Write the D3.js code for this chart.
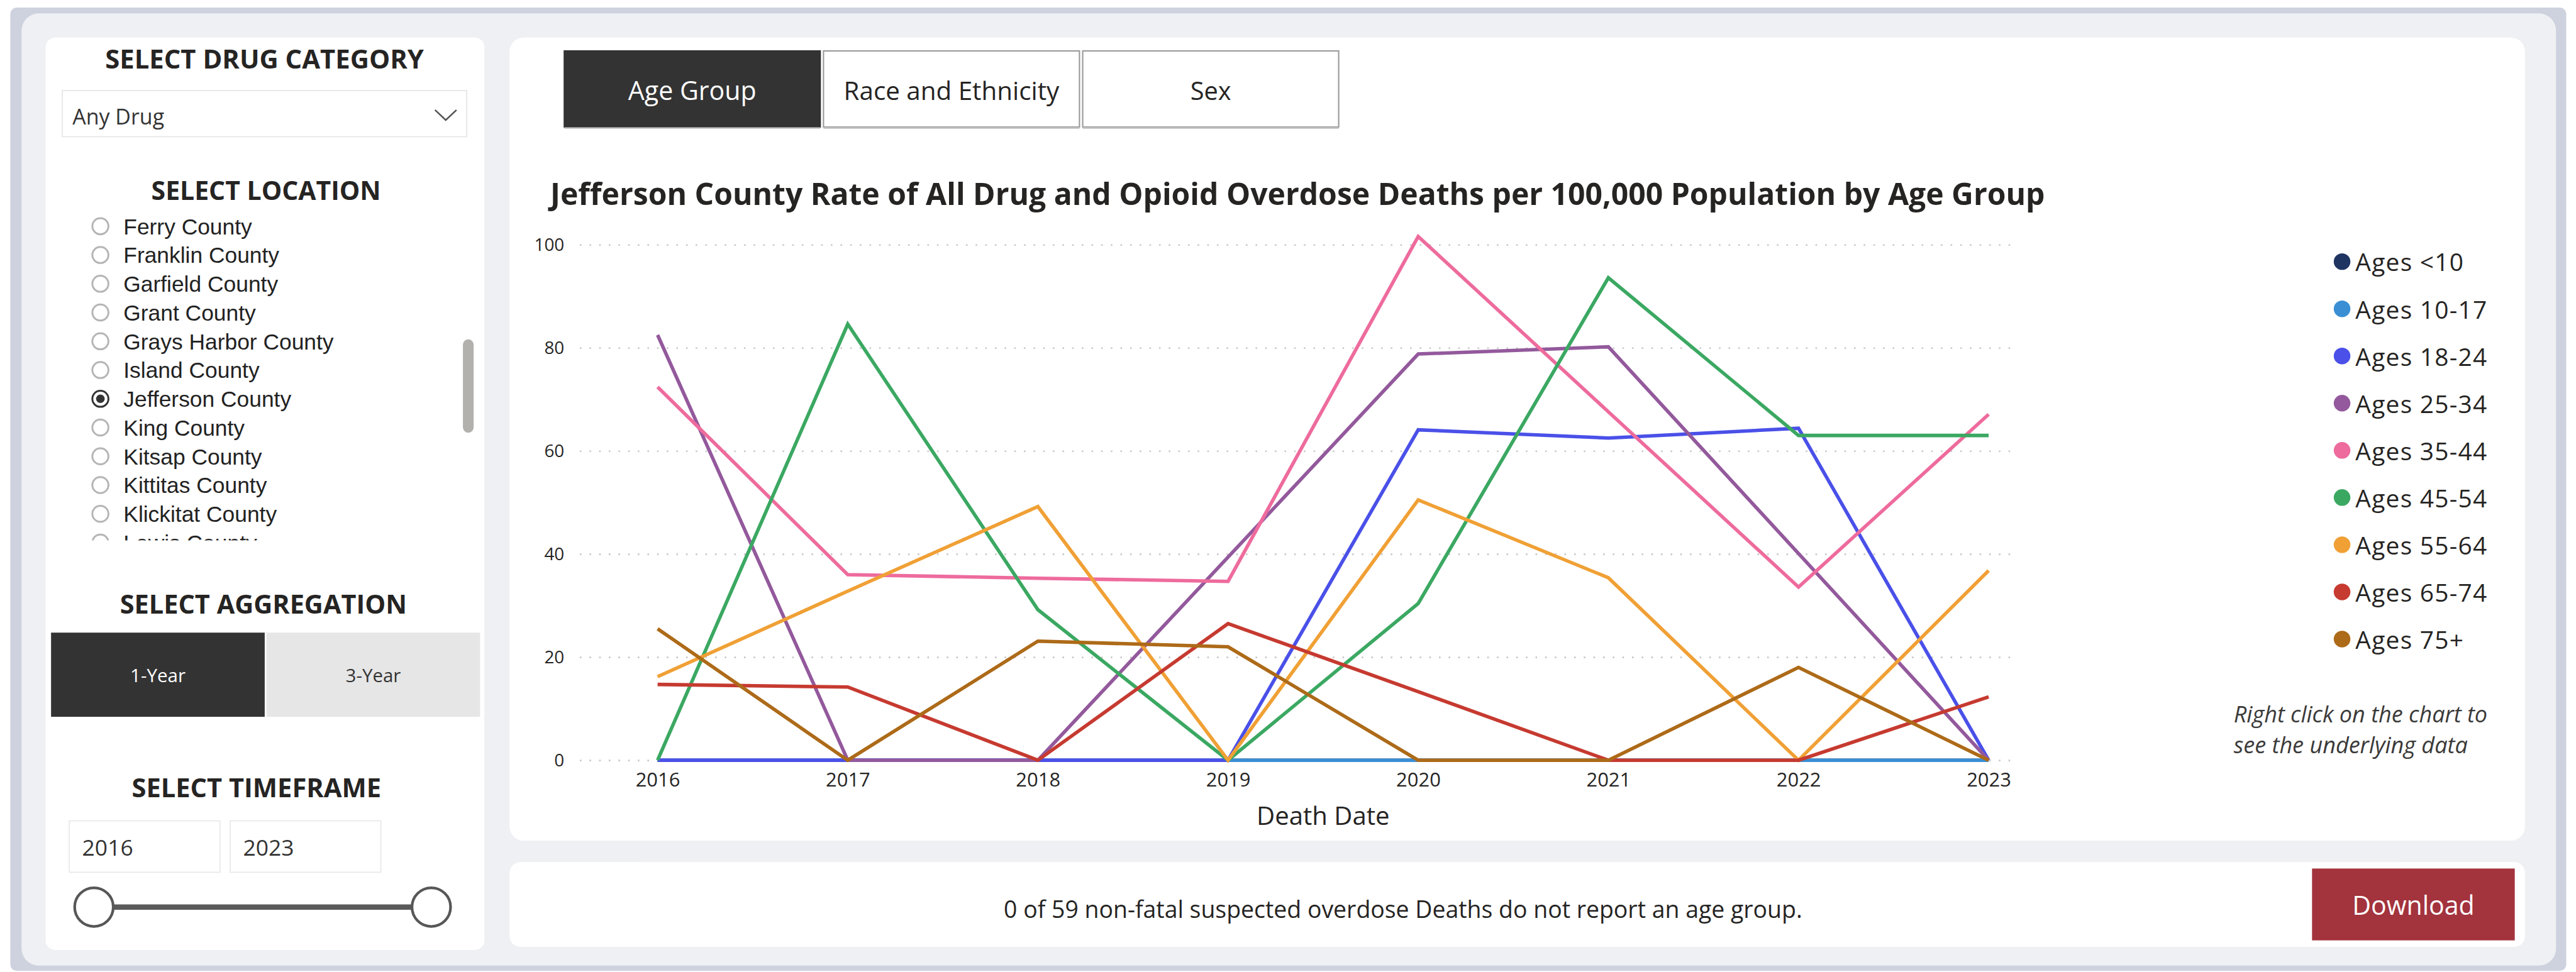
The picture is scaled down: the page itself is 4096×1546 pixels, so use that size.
<!DOCTYPE html>
<html>
<head>
<meta charset="utf-8">
<script src="https://cdn.jsdelivr.net/npm/d3@7"></script>
<style>
  html, body { margin: 0; padding: 0; background: #ffffff; overflow: hidden; }
  svg { display: block; }
</style>
</head>
<body>
<svg id="dash" width="4096" height="1546" viewBox="0 0 4803 1813"></svg>
<script>
// ---- data ----
const years = [2016, 2017, 2018, 2019, 2020, 2021, 2022, 2023];
const yTicks = [0, 20, 40, 60, 80, 100];

const agesUnder10 = [0, 0, 0, 0, 0, 0, 0, 0];
const ages10to17  = [0, 0, 0, 0, 0, 0, 0, 0];
const ages18to24  = [0, 0, 0, 0, 64.1, 62.5, 64.4, 0];
const ages25to34  = [82.5, 0, 0, 39.4, 78.8, 80.2, 40.1, 0];
const ages35to44  = [72.4, 36.0, 35.3, 34.7, 101.6, 67.6, 33.6, 67.1];
const ages45to54  = [0, 84.6, 29.2, 0, 30.4, 93.6, 63.0, 63.0];
const ages55to64  = [16.2, 32.8, 49.2, 0, 50.5, 35.4, 0, 36.8];
const ages65to74  = [14.7, 14.2, 0, 26.5, 13.3, 0, 0, 12.3];
const ages75plus  = [25.5, 0, 23.1, 22.0, 0, 0, 18.0, 0];

const seriesNames = ["Ages <10", "Ages 10-17", "Ages 18-24", "Ages 25-34", "Ages 35-44",
                     "Ages 45-54", "Ages 55-64", "Ages 65-74", "Ages 75+"];
const seriesValues = [agesUnder10, ages10to17, ages18to24, ages25to34, ages35to44,
                      ages45to54, ages55to64, ages65to74, ages75plus];
const seriesColors = ["#1f3461", "#3a8fd4", "#4a50e8", "#93599c", "#ee6b9d",
                      "#3ba862", "#f0a035", "#c63a30", "#ad6a18"];

const counties = ["Ferry County", "Franklin County", "Garfield County", "Grant County",
                  "Grays Harbor County", "Island County", "Jefferson County", "King County",
                  "Kitsap County", "Kittitas County", "Klickitat County", "Lewis County"];
const selectedCounty = "Jefferson County";

const tabs = ["Age Group", "Race and Ethnicity", "Sex"];
const aggregations = ["1-Year", "3-Year"];
const timeframe = ["2016", "2023"];

const UI = "'Open Sans', 'Noto Sans', sans-serif";
const LIST = "'Liberation Sans', Arial, sans-serif";
const INK = "#252423";

const svg = d3.select("#dash");

// scale a text element's font size so that it spans the given width
function fit(sel, width) {
  sel.each(function () {
    const base = parseFloat(this.getAttribute("font-size"));
    const len = this.getComputedTextLength();
    if (len > 0) this.setAttribute("font-size", (base * width / len).toFixed(2));
  });
  return sel;
}
function label(g, x, y, txt, size, opts = {}) {
  return g.append("text")
    .attr("x", x).attr("y", y)
    .attr("font-family", opts.family || UI)
    .attr("font-size", size)
    .attr("font-weight", opts.weight || 400)
    .attr("font-style", opts.style || "normal")
    .attr("fill", opts.fill || INK)
    .attr("text-anchor", opts.anchor || "start")
    .text(txt);
}

// ---- page frame ----
svg.append("rect").attr("x", 19).attr("y", 14).attr("width", 4766).attr("height", 1797)
  .attr("rx", 12).attr("fill", "#cdd2de");
svg.append("rect").attr("x", 40).attr("y", 25).attr("width", 4726).attr("height", 1776)
  .attr("rx", 32).attr("fill", "#eff0f3");

// ---- sidebar ----
const side = svg.append("g");
side.append("rect").attr("x", 85).attr("y", 70).attr("width", 818).attr("height", 1702)
  .attr("rx", 18).attr("fill", "#ffffff");

fit(label(side, 493, 128, "SELECT DRUG CATEGORY", 48, { weight: 700, anchor: "middle" }), 594);

side.append("rect").attr("x", 116).attr("y", 169).attr("width", 754).attr("height", 86)
  .attr("fill", "#ffffff").attr("stroke", "#e6e6e6").attr("stroke-width", 2);
fit(label(side, 135, 232, "Any Drug", 40, { fill: "#333333" }), 171);
side.append("polyline").attr("points", "811,205 831,224 851,205")
  .attr("fill", "none").attr("stroke", "#555555").attr("stroke-width", 3);

fit(label(side, 496, 373, "SELECT LOCATION", 48, { weight: 700, anchor: "middle" }), 428);

// county radio list, clipped at the bottom like a scrolled list box
svg.append("defs").append("clipPath").attr("id", "listClip")
  .append("rect").attr("x", 120).attr("y", 395).attr("width", 740).attr("height", 613);
const list = side.append("g").attr("clip-path", "url(#listClip)");
const rowY = d3.scalePoint().domain(counties).range([422, 1012]);
counties.forEach(c => {
  const cy = rowY(c);
  const sel = c === selectedCounty;
  list.append("circle").attr("cx", 187).attr("cy", cy).attr("r", 15)
    .attr("fill", "#ffffff").attr("stroke", sel ? "#333333" : "#b5b5b5").attr("stroke-width", 3.5);
  if (sel) list.append("circle").attr("cx", 187).attr("cy", cy).attr("r", 8).attr("fill", "#333333");
  label(list, 230, cy + 15, c, 41.5, { family: LIST, fill: "#222222" });
});
side.append("rect").attr("x", 863).attr("y", 633).attr("width", 20).attr("height", 174)
  .attr("rx", 10).attr("fill", "#b3b1ae");

fit(label(side, 491, 1145, "SELECT AGGREGATION", 48, { weight: 700, anchor: "middle" }), 535);
const aggX = d3.scaleBand().domain(aggregations).range([95, 895]).paddingInner(0.008);
aggregations.forEach((a, i) => {
  side.append("rect").attr("x", aggX(a)).attr("y", 1180).attr("width", aggX.bandwidth()).attr("height", 157)
    .attr("fill", i === 0 ? "#333333" : "#e6e6e6");
  fit(label(side, aggX(a) + aggX.bandwidth() / 2, 1272, a, 34,
    { anchor: "middle", fill: i === 0 ? "#ffffff" : "#333333" }), 103);
});

fit(label(side, 478, 1487, "SELECT TIMEFRAME", 48, { weight: 700, anchor: "middle" }), 465);
const boxX = [129, 429];
timeframe.forEach((t, i) => {
  side.append("rect").attr("x", boxX[i]).attr("y", 1531).attr("width", 281).attr("height", 96)
    .attr("fill", "#ffffff").attr("stroke", "#e8e8e8").attr("stroke-width", 2);
  fit(label(side, boxX[i] + 24, 1596, t, 42, { fill: "#333333" }), 95);
});
const slider = d3.scaleLinear().domain([+timeframe[0], +timeframe[1]]).range([175, 804]);
side.append("line").attr("x1", slider(+timeframe[0])).attr("x2", slider(+timeframe[1]))
  .attr("y1", 1692).attr("y2", 1692).attr("stroke", "#5a5a5a").attr("stroke-width", 10);
timeframe.forEach(t => {
  side.append("circle").attr("cx", slider(+t)).attr("cy", 1692).attr("r", 36)
    .attr("fill", "#ffffff").attr("stroke", "#575757").attr("stroke-width", 5);
});

// ---- chart card ----
const card = svg.append("g");
card.append("rect").attr("x", 950).attr("y", 70).attr("width", 3758).attr("height", 1498)
  .attr("rx", 26).attr("fill", "#ffffff");

const tabX = d3.scaleBand().domain(tabs).range([1052, 2496]).paddingInner(0.0125);
tabs.forEach((t, i) => {
  const active = i === 0;
  card.append("rect").attr("x", tabX(t)).attr("y", 95).attr("width", tabX.bandwidth()).attr("height", 142)
    .attr("fill", active ? "#333333" : "#ffffff")
    .attr("stroke", active ? "#333333" : "#9a9a9a").attr("stroke-width", 2.5);
  card.append("line").attr("x1", tabX(t)).attr("x2", tabX(t) + tabX.bandwidth())
    .attr("y1", 239).attr("y2", 239).attr("stroke", "#c9c9c9").attr("stroke-width", 3);
});
const tabWidths = [239, 402, 76];
tabs.forEach((t, i) => {
  fit(label(card, tabX(t) + tabX.bandwidth() / 2, 186, t, 44,
    { anchor: "middle", fill: i === 0 ? "#ffffff" : "#252423" }), tabWidths[i]);
});

fit(label(card, 1026, 382,
  "Jefferson County Rate of All Drug and Opioid Overdose Deaths per 100,000 Population by Age Group",
  52, { weight: 700 }), 2787);

// scales
const x = d3.scalePoint().domain(years).range([1226, 3708]);
const y = d3.scaleLinear().domain([0, 100]).range([1418, 456.5]);
const gridLeft = 1081, gridRight = 3762;

// y axis with dotted gridlines
const yAxis = card.append("g").attr("transform", `translate(${gridLeft},0)`)
  .call(d3.axisLeft(y).tickValues(yTicks).tickSize(-(gridRight - gridLeft)).tickPadding(29));
yAxis.select(".domain").remove();
yAxis.selectAll(".tick line").attr("stroke", "#c8c8c8").attr("stroke-width", 3)
  .attr("stroke-dasharray", "3 15");
yAxis.selectAll(".tick text").attr("font-family", UI).attr("font-size", 36)
  .attr("fill", INK).attr("dy", "0.34em");
fit(yAxis.selectAll(".tick text").filter(d => d === 100), 56);
const ySize = yAxis.selectAll(".tick text").filter(d => d === 100).attr("font-size");
yAxis.selectAll(".tick text").attr("font-size", ySize);

// x axis labels
const xAxis = card.append("g").attr("transform", `translate(0,${y(0)})`)
  .call(d3.axisBottom(x).tickSize(0).tickPadding(0));
xAxis.select(".domain").remove();
xAxis.selectAll(".tick text").attr("font-family", UI).attr("font-size", 36)
  .attr("fill", INK).attr("y", 49).attr("dy", 0);
fit(xAxis.selectAll(".tick text").filter(d => d === 2016), 83);
const xSize = xAxis.selectAll(".tick text").filter(d => d === 2016).attr("font-size");
xAxis.selectAll(".tick text").attr("font-size", xSize);

fit(label(card, (x(years[0]) + x(years[years.length - 1])) / 2, 1539, "Death Date", 46,
  { anchor: "middle" }), 248);

// series lines, drawn in legend order
const line = d3.line().x((d, i) => x(years[i])).y(d => y(d));
const linesG = card.append("g");
seriesValues.forEach((vals, i) => {
  linesG.append("path").datum(vals).attr("d", line)
    .attr("fill", "none").attr("stroke", seriesColors[i]).attr("stroke-width", 6.5)
    .attr("stroke-linejoin", "miter").attr("stroke-linecap", "butt");
});

// legend
const legY = d3.scalePoint().domain(seriesNames).range([488, 1192]);
const legG = card.append("g");
seriesNames.forEach((n, i) => {
  legG.append("circle").attr("cx", 4367).attr("cy", legY(n)).attr("r", 15.5).attr("fill", seriesColors[i]);
  legG.append("text").attr("class", "leg").attr("x", 4392).attr("y", legY(n) + 18)
    .attr("font-family", UI).attr("font-size", 44).attr("fill", INK)
    .attr("letter-spacing", 1.5).text(n);
});
fit(legG.selectAll("text.leg").filter(function () { return this.textContent === "Ages 10-17"; }), 247);
const legSize = legG.selectAll("text.leg").filter(function () { return this.textContent === "Ages 10-17"; }).attr("font-size");
legG.selectAll("text.leg").attr("font-size", legSize);

const note1 = label(card, 4165, 1348, "Right click on the chart to", 38, { style: "italic", fill: "#3b3a39" });
fit(note1, 473);
label(card, 4165, 1405, "see the underlying data", note1.attr("font-size"), { style: "italic", fill: "#3b3a39" });

// ---- bottom strip ----
const foot = svg.append("g");
foot.append("rect").attr("x", 950).attr("y", 1608).attr("width", 3758).attr("height", 158)
  .attr("rx", 20).attr("fill", "#ffffff");
fit(label(foot, 2616, 1712, "0 of 59 non-fatal suspected overdose Deaths do not report an age group.", 40,
  { anchor: "middle" }), 1489);
foot.append("rect").attr("x", 4311).attr("y", 1620).attr("width", 378).attr("height", 134)
  .attr("fill", "#a3333d");
fit(label(foot, 4500, 1706, "Download", 46, { anchor: "middle", fill: "#ffffff" }), 228);
</script>
</body>
</html>
